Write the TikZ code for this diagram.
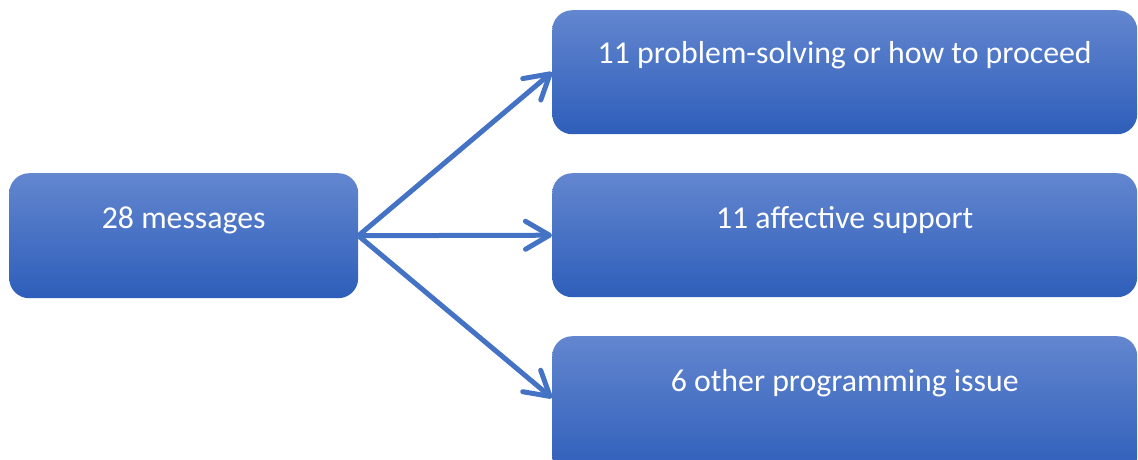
\documentclass[tikz,border=0pt]{standalone}
\usepackage{fontspec}
\setmainfont{Carlito}
\usetikzlibrary{arrows.meta,calc}
\definecolor{boxtop}{HTML}{6386CF}
\definecolor{boxmid}{HTML}{3F6FC9}
\definecolor{boxbot}{HTML}{2E5EBA}
\definecolor{arrowblue}{HTML}{4472C4}
\begin{document}
\begin{tikzpicture}[x=1pt,y=-1pt,
  catbox/.style={rectangle, rounded corners=20pt, draw=none, inner sep=0pt,
    top color=boxtop, middle color=boxmid, bottom color=boxbot,
    anchor=north west},
  leftbox/.style={catbox, minimum width=349pt, minimum height=125pt},
  rightbox/.style={catbox, minimum width=585pt, minimum height=124pt},
  lbl/.style={text=white, font=\fontsize{31.8}{38}\selectfont, inner sep=0pt, anchor=base},
  flow/.style={arrowblue, line width=5pt, line cap=round,
    -{Straight Barb[length=24pt,width=28pt,round]}}]
  \useasboundingbox (0,0) rectangle (1138,459);
  \clip (0,0) rectangle (1138,459);

  % source and the three categories (the last one runs past the lower edge)
  \node[leftbox]  (src)  at (9,173)   {};
  \node[rightbox] (solve) at (552,10)  {};
  \node[rightbox] (aff)   at (552,173) {};
  \node[rightbox, minimum height=140pt] (other) at (552,336) {};
  \coordinate (otherin) at ($(other.north west)+(0,62)$);

  \node[lbl] (srct)   at ([yshift=-55pt]src.north)   {28 messages};
  \node[lbl] (solvet) at ([yshift=-53pt]solve.north) {11 problem-solving or how to proceed};
  \node[lbl] (afft)   at ([yshift=-55pt]aff.north)   {11 affective support};
  \node[lbl] (othert) at ([yshift=-55pt]other.north) {6 other programming issue};

  % fan-out arrows
  \draw[flow] (src.east) -- (solve.west);
  \draw[flow] (src.east) -- (aff.west);
  \draw[flow] (src.east) -- (otherin);
\end{tikzpicture}
\end{document}
